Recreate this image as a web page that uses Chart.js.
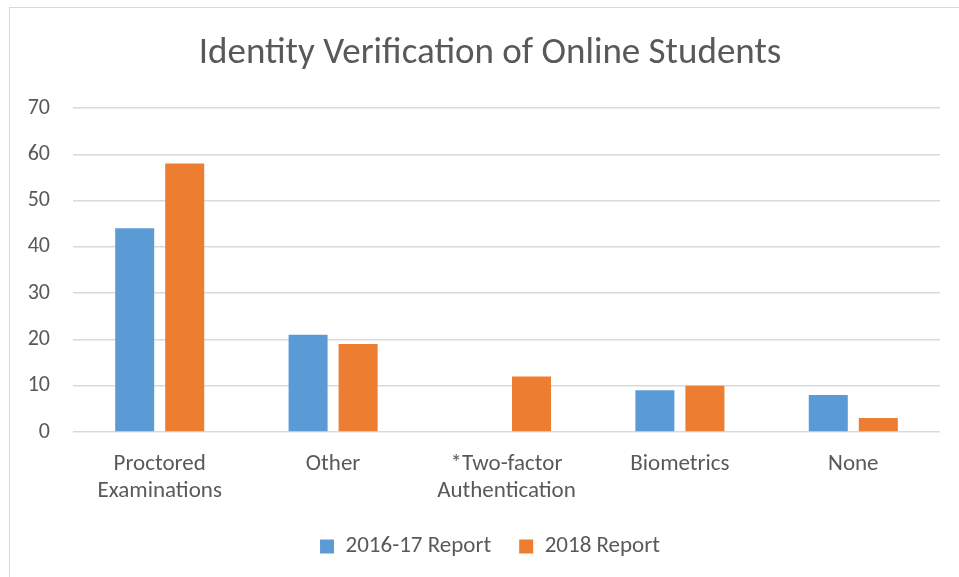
<!DOCTYPE html>
<html>
<head>
<meta charset="utf-8">
<script src="https://cdn.jsdelivr.net/npm/chart.js@4.4.1/dist/chart.umd.min.js"></script>
<style>
  html, body { margin: 0; padding: 0; background: #fff; }
  #wrap { position: relative; width: 959px; height: 577px; overflow: hidden; }
  #frame { position: absolute; left: 9px; top: 7px; width: 970px; height: 590px; border: 1px solid #d9d9d9; box-sizing: border-box; }
  canvas { position: absolute; left: 0; top: 0; }
</style>
</head>
<body>
<div id="wrap">
  <div id="frame"></div>
  <canvas id="c" width="970" height="577"></canvas>
</div>
<script>
const categories = [["Proctored", "Examinations"], "Other", ["*Two-factor", "Authentication"], "Biometrics", "None"];
const series2016 = [44, 21, null, 9, 8];
const series2018 = [58, 19, 12, 10, 3];
const seriesNames = ["2016-17 Report", "2018 Report"];
const yTicks = { min: 0, max: 70, step: 10 };
const titleText = "Identity Verification of Online Students";

const FONT = "Carlito, Calibri, Lato, sans-serif";
const TEXT = "#595959";

new Chart(document.getElementById("c"), {
  type: "bar",
  data: {
    labels: categories,
    datasets: [
      { label: seriesNames[0], data: series2016, backgroundColor: "#5b9bd5", categoryPercentage: 0.577, barPercentage: 0.78 },
      { label: seriesNames[1], data: series2018, backgroundColor: "#ed7d31", categoryPercentage: 0.577, barPercentage: 0.78 }
    ]
  },
  options: {
    responsive: false,
    animation: false,
    layout: { padding: { left: 10, right: 0, top: 8, bottom: 9 } },
    plugins: {
      title: {
        display: true, text: titleText, color: TEXT,
        font: { family: FONT, size: 37, weight: "normal", lineHeight: 1.2 },
        padding: { top: 24, bottom: 31.6 }
      },
      legend: {
        position: "bottom",
        labels: {
          color: TEXT, boxWidth: 14, boxHeight: 14, padding: 28,
          font: { family: FONT, size: 23 }
        }
      },
      tooltip: { enabled: false }
    },
    scales: {
      x: {
        grid: { display: false, drawTicks: false },
        border: { display: false },
        ticks: { color: TEXT, font: { family: FONT, size: 23, lineHeight: 1.2 }, padding: 18, maxRotation: 0, autoSkip: false },
        afterFit: (s) => { s.height = 75; }
      },
      y: {
        min: yTicks.min, max: yTicks.max,
        grid: { color: "#d9d9d9", lineWidth: 1.5, drawTicks: false },
        border: { display: false },
        ticks: { stepSize: yTicks.step, color: TEXT, font: { family: FONT, size: 22 }, padding: 23 },
        afterFit: (s) => { s.width = 63; }
      },
      yRight: {
        type: "linear", position: "right", display: true,
        grid: { display: false, drawTicks: false },
        border: { display: false },
        ticks: { display: false },
        afterFit: (s) => { s.width = 30; }
      }
    }
  }
});
</script>
</body>
</html>
